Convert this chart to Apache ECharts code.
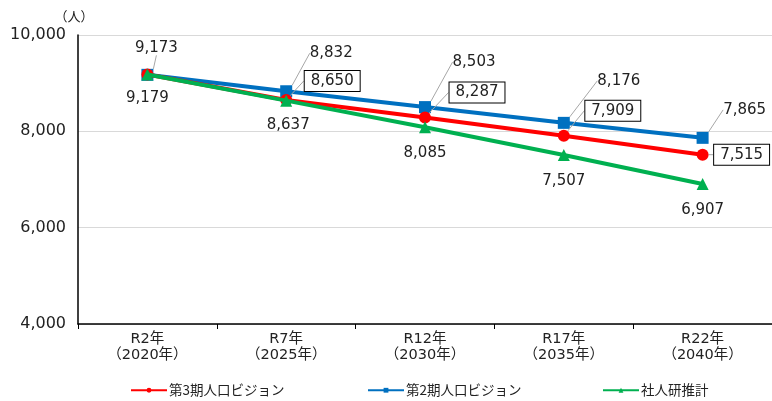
<!DOCTYPE html>
<html><head><meta charset="utf-8">
<script src="https://cdn.jsdelivr.net/npm/echarts@6/dist/echarts.min.js"></script>
<style>html,body{margin:0;padding:0;background:#fff}#c{width:772px;height:401px}</style>
</head><body><div id="c"></div>
<script>
const categories = ['R2年\n（2020年）','R7年\n（2025年）','R12年\n（2030年）','R17年\n（2035年）','R22年\n（2040年）'];
const seriesNames = ['第3期人口ビジョン','第2期人口ビジョン','社人研推計'];
const vision3 = [9179, 8650, 8287, 7909, 7515];
const vision2 = [9173, 8832, 8503, 8176, 7865];
const ipss = [9179, 8637, 8085, 7507, 6907];
const yTicks = [4000, 6000, 8000, 10000];

const FONT = '"DejaVu Sans", "Noto Sans CJK JP", sans-serif';
const CJK = '"Noto Sans CJK JP", sans-serif';
const fmt = v => v.toLocaleString('en-US');

// label offsets (pixels) per point
const off3 = [null, [46,-19],[52,-25],[49,-25],[39,0]];
const off2 = [[9,-27],[45,-38],[49,-45],[55,-42],[42,-28]];
const offG = [[0,24],[2,24],[0,26],[0,26],[0,26]];

function layoutFn(offs){
  return function(p){ const o = offs[p.dataIndex]; if(!o) return {}; return {dx:o[0], dy:o[1]}; };
}

const chart = echarts.init(document.getElementById('c'), null, {renderer:'canvas'});
const legendBase = {
  bottom: -1, itemWidth: 36, itemHeight: 6, itemGap: 4,
  textStyle: {fontFamily: CJK, fontSize: 13.5, color: '#222', padding: [0,0,0,-3]}
};
chart.setOption({
  animation: false,
  textStyle: {fontFamily: FONT},
  grid: {left: 78, right: -6, top: 35, bottom: 77},
  legend: [
    Object.assign({}, legendBase, {left: 125, data: [seriesNames[0]]}),
    Object.assign({}, legendBase, {left: 362, data: [seriesNames[1]]}),
    Object.assign({}, legendBase, {left: 597, data: [seriesNames[2]]})
  ],
  xAxis: {
    type: 'category', data: categories, boundaryGap: true,
    axisLine: {lineStyle: {color: '#000', width: 1.5}},
    axisTick: {show: true, length: 5, lineStyle: {color: '#000'}},
    axisLabel: {fontFamily: FONT, fontSize: 14.5, color: '#222', lineHeight: 16, margin: 7}
  },
  yAxis: {
    type: 'value', min: 4000, max: 10000, interval: 2000,
    name: '（人）', nameLocation: 'end', nameGap: 12,
    nameTextStyle: {fontFamily: CJK, fontSize: 13, color: '#222', align: 'center', padding: [0,8,0,0]},
    axisLine: {show: true, lineStyle: {color: '#000', width: 1.5}},
    axisTick: {show: false},
    splitLine: {lineStyle: {color: '#D9D9D9', width: 1}},
    axisLabel: {fontFamily: FONT, fontSize: 16, color: '#222', margin: 12,
      formatter: v => yTicks.includes(v) ? fmt(v) : ''}
  },
  series: [
    {
      name: seriesNames[1], type: 'line', data: vision2, z: 2,
      symbol: 'rect', symbolSize: 12,
      lineStyle: {color: '#0070C0', width: 4}, itemStyle: {color: '#0070C0'},
      label: {show: true, position: 'inside', formatter: p => fmt(p.value),
        fontFamily: FONT, fontSize: 15, color: '#222'},
      labelLayout: layoutFn(off2),
      labelLine: {show: true, lineStyle: {color: '#A6A6A6', width: 1}}
    },
    {
      name: seriesNames[0], type: 'line', z: 3,
      data: vision3.map((v, i) => i === 0 ? {value: v, label: {show: false}} : v),
      symbol: 'circle', symbolSize: 12,
      lineStyle: {color: '#FF0000', width: 4}, itemStyle: {color: '#FF0000'},
      label: {show: true, position: 'inside',
        formatter: p => fmt(p.value),
        fontFamily: FONT, fontSize: 15, color: '#222',
        backgroundColor: '#fff', borderColor: '#000', borderWidth: 1, padding: [3,6,2,6]},
      labelLayout: layoutFn(off3),
      labelLine: {show: true, lineStyle: {color: '#A6A6A6', width: 1}}
    },
    {
      name: seriesNames[2], type: 'line', data: ipss, z: 4,
      symbol: 'triangle', symbolSize: 12,
      lineStyle: {color: '#00B050', width: 4}, itemStyle: {color: '#00B050'},
      label: {show: true, position: 'inside', formatter: p => fmt(p.value),
        fontFamily: FONT, fontSize: 15, color: '#222'},
      labelLayout: layoutFn(offG)
    }
  ]
});
</script></body></html>
